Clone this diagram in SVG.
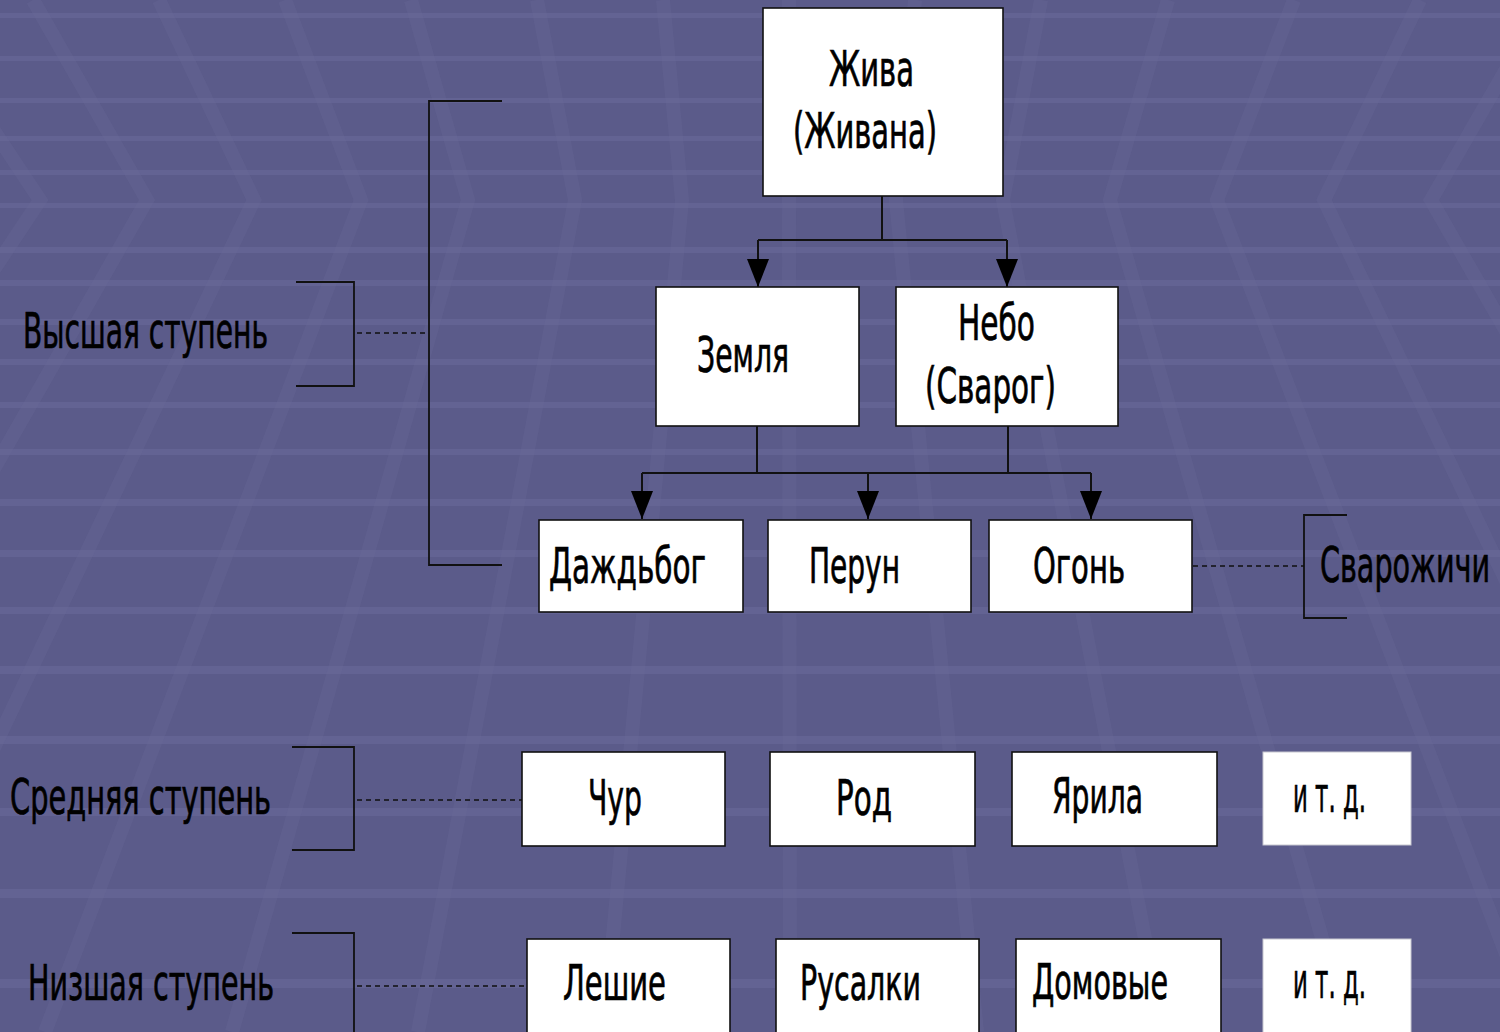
<svg xmlns="http://www.w3.org/2000/svg" width="1500" height="1032" viewBox="0 0 1500 1032">
<defs>
<style>
.bg-band{fill:#6a6a9a;opacity:0.55}
.bg-stripe{stroke:#6a6a98;stroke-width:14;fill:none;opacity:0.3}
.box{fill:#ffffff;stroke:#111111;stroke-width:1.6}
.box2{fill:#ffffff;stroke:#c8c8d0;stroke-width:1}
.t{font-family:"DejaVu Sans Condensed","DejaVu Sans",sans-serif;font-size:50px;fill:#000000;stroke:#000000;stroke-width:0.7}
.conn{stroke:#111111;stroke-width:2;fill:none}
.dot{stroke:#111111;stroke-width:1.6;fill:none;stroke-dasharray:5 4}
.brk{stroke:#111111;stroke-width:1.8;fill:none}
</style>
<marker id="arr" markerUnits="userSpaceOnUse" markerWidth="28" markerHeight="22" refX="28" refY="11" orient="auto">
<path d="M0,0 L28,11 L0,22 Z" fill="#000000"/>
</marker>
</defs>
<g id="background">
<rect x="0" y="0" width="1500" height="1032" fill="#5b5b8a"/>
<rect class="bg-band" x="0" y="13" width="1500" height="5"/>
<rect class="bg-band" x="0" y="56" width="1500" height="5"/>
<rect class="bg-band" x="0" y="98" width="1500" height="5"/>
<rect class="bg-band" x="0" y="136" width="1500" height="5"/>
<rect class="bg-band" x="0" y="170" width="1500" height="5"/>
<rect class="bg-band" x="0" y="203" width="1500" height="5"/>
<rect class="bg-band" x="0" y="247" width="1500" height="6"/>
<rect class="bg-band" x="0" y="280" width="1500" height="6"/>
<rect class="bg-band" x="0" y="319" width="1500" height="6"/>
<rect class="bg-band" x="0" y="359" width="1500" height="6"/>
<rect class="bg-band" x="0" y="402" width="1500" height="6"/>
<rect class="bg-band" x="0" y="449" width="1500" height="6"/>
<rect class="bg-band" x="0" y="499" width="1500" height="7"/>
<rect class="bg-band" x="0" y="550" width="1500" height="7"/>
<rect class="bg-band" x="0" y="607" width="1500" height="7"/>
<rect class="bg-band" x="0" y="666" width="1500" height="8"/>
<rect class="bg-band" x="0" y="736" width="1500" height="8"/>
<rect class="bg-band" x="0" y="808" width="1500" height="8"/>
<rect class="bg-band" x="0" y="889" width="1500" height="9"/>
<rect class="bg-band" x="0" y="979" width="1500" height="9"/>
<path class="bg-stripe" d="M-93,0 L40,200 L-513,1032"/>
<path class="bg-stripe" d="M33,0 L147,200 L-327,1032"/>
<path class="bg-stripe" d="M159,0 L254,200 L-141,1032"/>
<path class="bg-stripe" d="M285,0 L361,200 L45,1032"/>
<path class="bg-stripe" d="M411,0 L468,200 L232,1032"/>
<path class="bg-stripe" d="M537,0 L575,200 L418,1032"/>
<path class="bg-stripe" d="M663,0 L682,200 L604,1032"/>
<path class="bg-stripe" d="M789,0 L789,200 L790,1032"/>
<path class="bg-stripe" d="M915,0 L896,200 L977,1032"/>
<path class="bg-stripe" d="M1041,0 L1003,200 L1163,1032"/>
<path class="bg-stripe" d="M1168,0 L1110,200 L1349,1032"/>
<path class="bg-stripe" d="M1294,0 L1217,200 L1536,1032"/>
<path class="bg-stripe" d="M1420,0 L1324,200 L1722,1032"/>
<path class="bg-stripe" d="M1546,0 L1431,200 L1908,1032"/>
</g>
<g id="connectors">
<path class="conn" d="M882,196 V240 M758,240 H1007"/>
<path class="conn" d="M758,240 V287" marker-end="url(#arr)"/>
<path class="conn" d="M1007,240 V287" marker-end="url(#arr)"/>
<path class="conn" d="M757,426 V473 M1008,426 V473 M642,473 H1091"/>
<path class="conn" d="M642,473 V519" marker-end="url(#arr)"/>
<path class="conn" d="M868,473 V519" marker-end="url(#arr)"/>
<path class="conn" d="M1091,473 V519" marker-end="url(#arr)"/>
<path class="brk" d="M502,101 H429 V565 H502"/>
<path class="brk" d="M296,282 H354 V386 H296"/>
<path class="dot" d="M357,333 H429"/>
<path class="brk" d="M1347,515 H1304 V618 H1347"/>
<path class="dot" d="M1193,566 H1304"/>
<path class="brk" d="M292,747 H354 V850 H292"/>
<path class="dot" d="M357,800 H522"/>
<path class="brk" d="M292,933 H354 V1032"/>
<path class="dot" d="M357,986 H527"/>
</g>
<g id="labels">
<text class="t" x="23" y="348" textLength="245" lengthAdjust="spacingAndGlyphs">Высшая ступень</text>
<text class="t" x="10" y="814" textLength="261" lengthAdjust="spacingAndGlyphs">Средняя ступень</text>
<text class="t" x="28" y="1000" textLength="246" lengthAdjust="spacingAndGlyphs">Низшая ступень</text>
<text class="t" x="1320" y="582" textLength="170" lengthAdjust="spacingAndGlyphs">Сварожичи</text>
</g>
<g id="node-zhiva">
<rect class="box" x="763" y="8" width="240" height="188"/>
<text class="t" x="829" y="86" textLength="85" lengthAdjust="spacingAndGlyphs">Жива</text>
<text class="t" x="793" y="148" textLength="144" lengthAdjust="spacingAndGlyphs">(Живана)</text>
</g>
<g id="node-zemlya">
<rect class="box" x="656" y="287" width="203" height="139"/>
<text class="t" x="697" y="372" textLength="92" lengthAdjust="spacingAndGlyphs">Земля</text>
</g>
<g id="node-nebo">
<rect class="box" x="896" y="287" width="222" height="139"/>
<text class="t" x="958" y="340" textLength="77" lengthAdjust="spacingAndGlyphs">Небо</text>
<text class="t" x="925" y="403" textLength="131" lengthAdjust="spacingAndGlyphs">(Сварог)</text>
</g>
<g id="node-dazhdbog">
<rect class="box" x="539" y="520" width="204" height="92"/>
<text class="t" x="549" y="583" textLength="157" lengthAdjust="spacingAndGlyphs">Даждьбог</text>
</g>
<g id="node-perun">
<rect class="box" x="768" y="520" width="203" height="92"/>
<text class="t" x="809" y="583" textLength="91" lengthAdjust="spacingAndGlyphs">Перун</text>
</g>
<g id="node-ogon">
<rect class="box" x="989" y="520" width="203" height="92"/>
<text class="t" x="1033" y="583" textLength="92" lengthAdjust="spacingAndGlyphs">Огонь</text>
</g>
<g id="node-chur">
<rect class="box" x="522" y="752" width="203" height="94"/>
<text class="t" x="588" y="815" textLength="54" lengthAdjust="spacingAndGlyphs">Чур</text>
</g>
<g id="node-rod">
<rect class="box" x="770" y="752" width="205" height="94"/>
<text class="t" x="836" y="815" textLength="56" lengthAdjust="spacingAndGlyphs">Род</text>
</g>
<g id="node-yarila">
<rect class="box" x="1012" y="752" width="205" height="94"/>
<text class="t" x="1052" y="813" textLength="91" lengthAdjust="spacingAndGlyphs">Ярила</text>
</g>
<g id="node-etc-middle">
<rect class="box2" x="1263" y="752" width="148" height="93"/>
<text class="t" x="1293" y="812" textLength="73" lengthAdjust="spacingAndGlyphs">и т. д.</text>
</g>
<g id="node-leshie">
<rect class="box" x="527" y="939" width="203" height="100"/>
<text class="t" x="563" y="1000" textLength="103" lengthAdjust="spacingAndGlyphs">Лешие</text>
</g>
<g id="node-rusalki">
<rect class="box" x="776" y="939" width="203" height="100"/>
<text class="t" x="800" y="1000" textLength="121" lengthAdjust="spacingAndGlyphs">Русалки</text>
</g>
<g id="node-domovye">
<rect class="box" x="1016" y="939" width="205" height="100"/>
<text class="t" x="1032" y="999" textLength="136" lengthAdjust="spacingAndGlyphs">Домовые</text>
</g>
<g id="node-etc-lower">
<rect class="box2" x="1263" y="939" width="148" height="100"/>
<text class="t" x="1293" y="998" textLength="73" lengthAdjust="spacingAndGlyphs">и т. д.</text>
</g>
</svg>
